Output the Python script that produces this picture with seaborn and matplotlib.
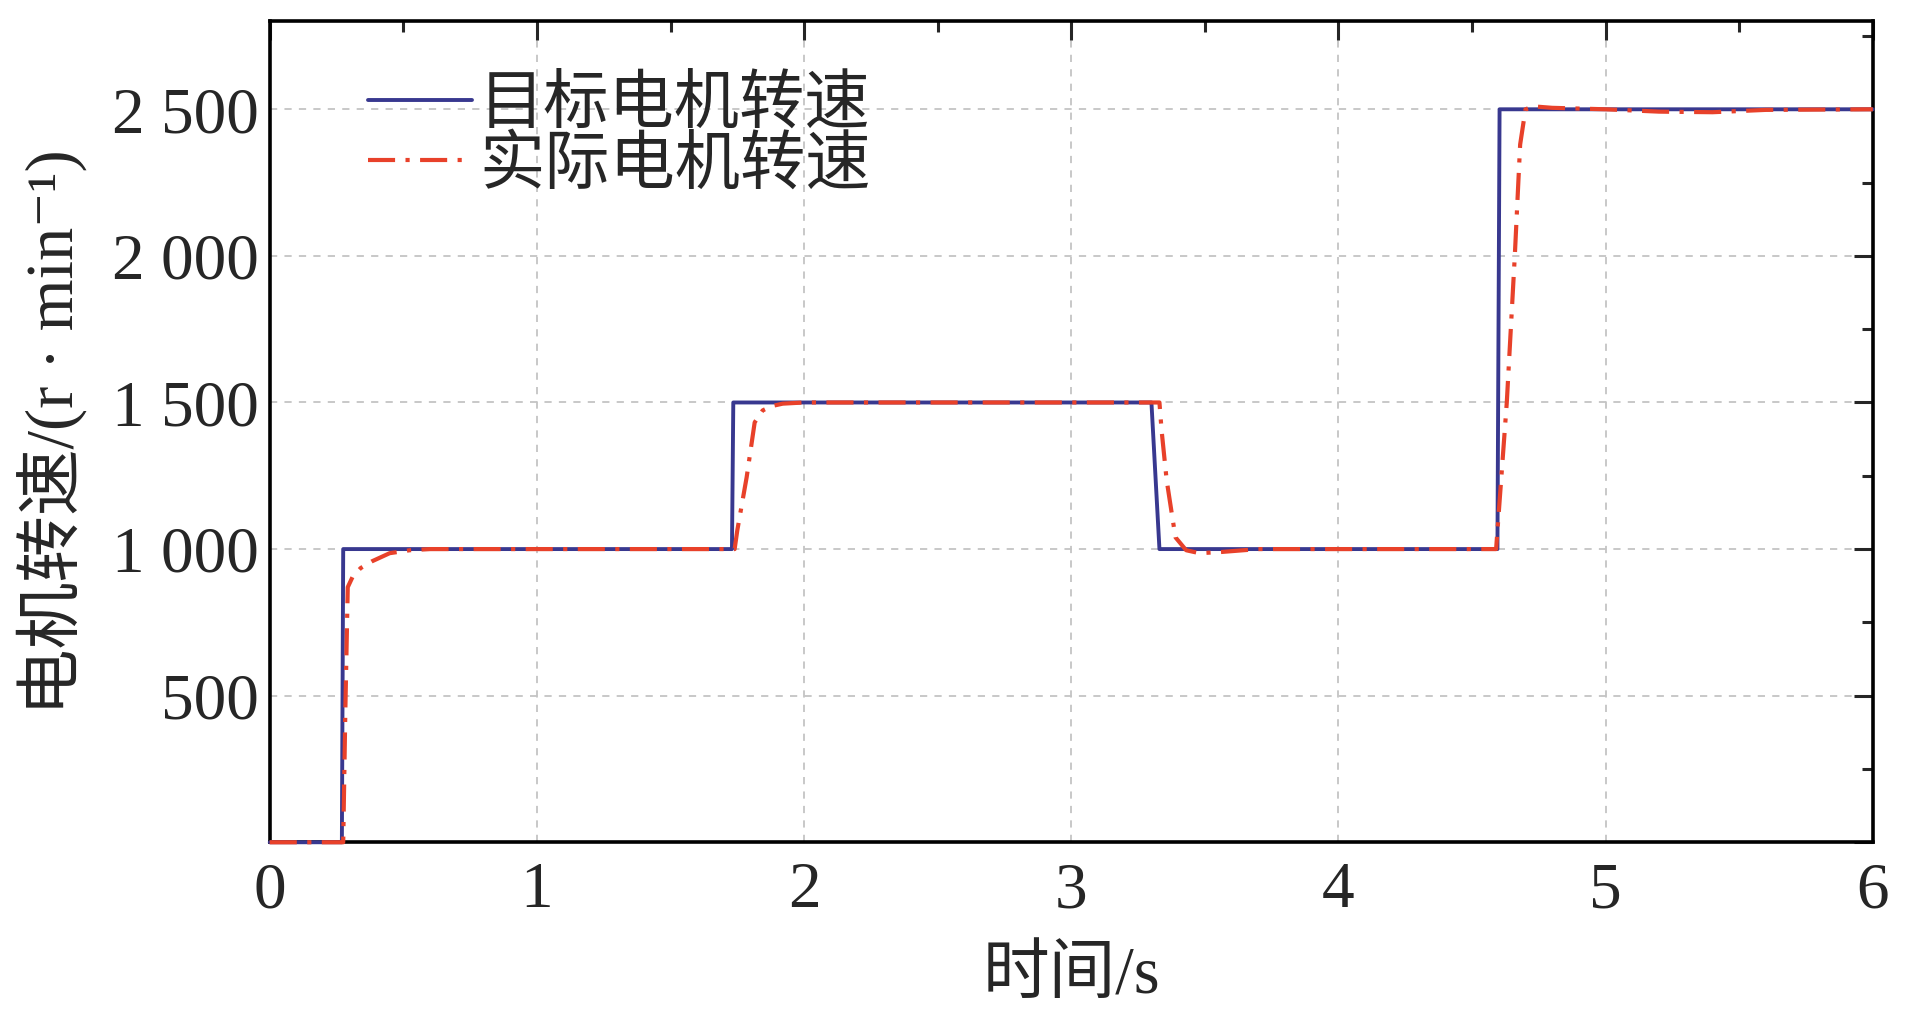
import numpy as np
import pandas as pd
import seaborn as sns
import matplotlib.pyplot as plt
from matplotlib.ticker import MultipleLocator, FuncFormatter

# target motor speed (step command)
t_target = [0, 0.27, 0.275, 1.73, 1.735, 3.30, 3.33, 4.595, 4.603, 6.0]
v_target = [0, 0, 1000, 1000, 1500, 1500, 1000, 1000, 2500, 2500]

t_actual = [0, 0.275, 0.283, 0.292, 0.31, 0.34, 0.382, 0.449, 0.524, 0.60,
            1.74, 1.75, 1.785, 1.815, 1.845, 1.88, 1.92, 2.0,
            3.33, 3.338, 3.357, 3.376, 3.39, 3.43, 3.48, 3.56, 3.70,
            4.59, 4.63, 4.66, 4.68, 4.70, 4.73, 4.80, 5.0, 5.2, 5.4, 5.6, 6.0]
v_actual = [0, 0, 450, 870, 905, 935, 958, 986, 996, 1000,
            1000, 1064, 1245, 1432, 1473, 1488, 1496, 1500,
            1500, 1405, 1235, 1122, 1040, 996, 986, 990, 1000,
            1000, 1500, 2000, 2380, 2500, 2510, 2505, 2500, 2492, 2490, 2498, 2500]

labels = ["目标电机转速", "实际电机转速"]
blue = "#38388f"
red = "#e8412a"

sns.set_style("white")
plt.rcParams['font.family'] = ['Liberation Serif', 'Noto Sans CJK SC', 'DejaVu Sans']

fig = plt.figure(figsize=(19.13, 10.16), dpi=100)
ax = fig.add_axes([0.141, 0.171, 0.838, 0.808])

sns.lineplot(x=t_target, y=v_target, ax=ax, color=blue, lw=2.8, sort=False,
             estimator=None, label=labels[0])
sns.lineplot(x=t_actual, y=v_actual, ax=ax, color=red, lw=3.0, sort=False,
             estimator=None, label=labels[1], linestyle=(0, (6.5, 2.5, 1, 2.5)))
# keep the zero segments visible on top of the bottom spine
for ln in ax.lines:
    ln.set_clip_on(False)
    ln.set_zorder(5)

ax.set_xlim(0, 6)
ax.set_ylim(0, 2800)
ax.xaxis.set_major_locator(MultipleLocator(1))
ax.xaxis.set_minor_locator(MultipleLocator(0.5))
ax.yaxis.set_major_locator(MultipleLocator(500))
ax.yaxis.set_minor_locator(MultipleLocator(250))

def fmt(v, pos):
    if v <= 0:
        return ""
    return f"{int(v):,}".replace(",", " ")
ax.yaxis.set_major_formatter(FuncFormatter(fmt))

ax.grid(True, which='major', color='#c4c4c4', linestyle=(0, (4, 4)), lw=1.3)
ax.tick_params(which='both', direction='in', top=True, right=True, width=2.2, labelsize=47)
ax.tick_params(which='major', length=14)
ax.tick_params(which='minor', length=8)
ax.tick_params(axis='x', pad=14)
ax.tick_params(axis='y', pad=8)
for s in ax.spines.values():
    s.set_linewidth(2.6)
    s.set_color('black')

ax.set_xlabel("时间/s", fontsize=48, labelpad=18)
ax.set_ylabel("电机转速/(r · min⁻¹)", fontsize=48, labelpad=18)

leg = ax.legend(loc='upper left', frameon=False, fontsize=47, handlelength=1.6,
                handletextpad=0.1, labelspacing=0.0, borderaxespad=0.0,
                bbox_to_anchor=(0.045, 0.965))

fig.savefig("out.png", dpi=100)
